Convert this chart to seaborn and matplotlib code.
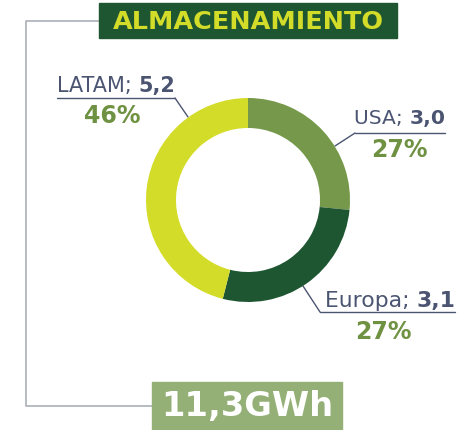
import matplotlib
matplotlib.use("Agg")
import matplotlib.pyplot as plt
import seaborn as sns

sns.set_theme(style="white")
plt.rcParams['font.family'] = ['DejaVu Sans']

regions = ["USA", "Europa", "LATAM"]
values = [3.0, 3.1, 5.2]
value_labels = ["3,0", "3,1", "5,2"]
percents = ["27%", "27%", "46%"]
title = "ALMACENAMIENTO"
total_label = "11,3GWh"

colors = ["#76984a", "#1e5631", "#d4dc2a"]
TXT = "#4b5572"
PCT = "#6f9142"

W, H = 470, 431
fig = plt.figure(figsize=(W / 100, H / 100), dpi=100)

ov = fig.add_axes([0, 0, 1, 1])
ov.set_xlim(0, W)
ov.set_ylim(H, 0)
ov.axis("off")


def fit_text(x, y, s, target_w, **kw):
    t = ov.text(x, y, s, **kw)
    fig.canvas.draw()
    w = t.get_window_extent().width
    t.set_fontsize(t.get_fontsize() * target_w / w)
    return t


# donut
cx, cy, R = 248, 201, 102
pax = fig.add_axes([(cx - R) / W, (H - cy - R) / H, 2 * R / W, 2 * R / H])
pax.pie(values, colors=colors, startangle=90, counterclock=False,
        wedgeprops=dict(width=0.294, edgecolor="none"), radius=1)
pax.set_xlim(-1, 1)
pax.set_ylim(-1, 1)
pax.set_aspect("equal")
pax.axis("off")

# bracket line
ov.plot([100, 25.5, 25.5, 152], [21.5, 21.5, 407, 407], color="#a9b0b8", lw=1.2, zorder=1)

# title box
ov.add_patch(plt.Rectangle((99, 4), 298, 35, color="#1e5631", zorder=2))
fit_text(248, 22, title, 270, color="#d4dc2a", fontsize=18, fontweight="bold",
         ha="center", va="center", zorder=3)

# total box
ov.add_patch(plt.Rectangle((152, 383), 190, 48, color="#95b076", zorder=2))
fit_text(247, 407, total_label, 172, color="white", fontsize=30, fontweight="bold",
         ha="center", va="center", zorder=3)

specs = {
    "LATAM": dict(tx=57, ty=92, w=119, uy=99, ux0=57, ux1=175, lx=175, end=(188, 118), px=112, py=116),
    "USA": dict(tx=354, ty=124, w=91, uy=134, ux0=355, ux1=445, lx=355, end=(335, 147), px=399, py=150),
    "Europa": dict(tx=325, ty=307, w=130, uy=313, ux0=320, ux1=455, lx=320, end=(303, 287), px=383, py=332),
}
inv = ov.transData.inverted()
for reg, val, pct in zip(regions, value_labels, percents):
    s = specs[reg]
    t1 = ov.text(s["tx"], s["ty"], reg + "; ", color=TXT, fontsize=14,
                 ha="left", va="baseline")
    t2 = ov.text(s["tx"], s["ty"], val, color=TXT, fontsize=14, fontweight="bold",
                 ha="left", va="baseline")
    fig.canvas.draw()
    w1 = t1.get_window_extent().width
    w2 = t2.get_window_extent().width
    scale = s["w"] / (w1 + w2)
    t1.set_fontsize(14 * scale)
    t2.set_fontsize(14 * scale)
    fig.canvas.draw()
    bb = t1.get_window_extent()
    t2.set_x(inv.transform((bb.x1, bb.y0))[0])
    ov.plot([s["ux0"], s["ux1"]], [s["uy"], s["uy"]], color=TXT, lw=1)
    ov.plot([s["lx"], s["end"][0]], [s["uy"], s["end"][1]], color=TXT, lw=1)
    ov.text(s["px"], s["py"], pct, color=PCT, fontsize=17, fontweight="bold",
            ha="center", va="center")

fig.savefig("out.png", dpi=100)
